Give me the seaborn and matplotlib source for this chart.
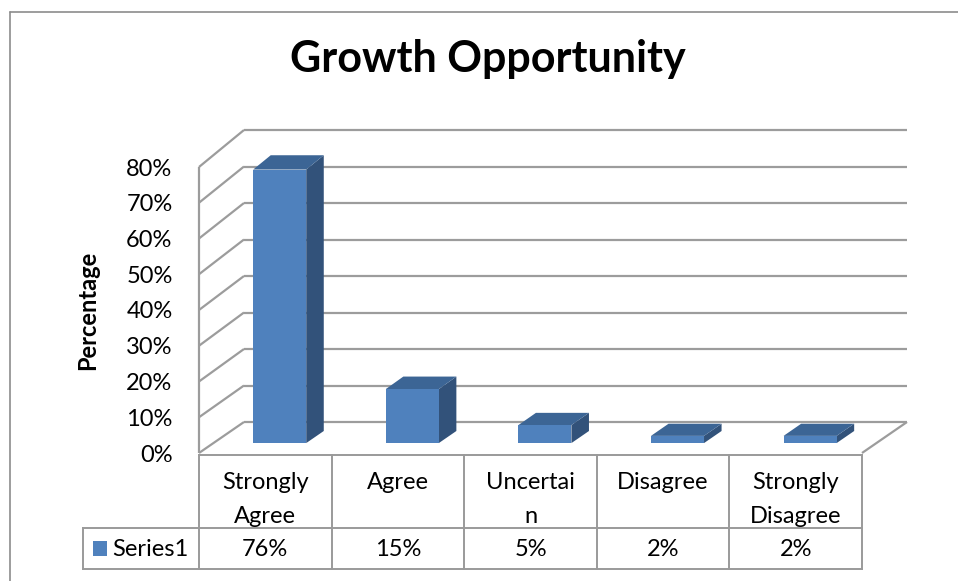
import matplotlib
matplotlib.use("Agg")
import matplotlib.pyplot as plt
from matplotlib.patches import Polygon, Rectangle
from matplotlib.lines import Line2D
from matplotlib.transforms import blended_transform_factory
import pandas as pd
import seaborn as sns

# ---- data -------------------------------------------------------------
categories = ["Strongly\nAgree", "Agree", "Uncertai\nn", "Disagree", "Strongly\nDisagree"]
values = [76, 15, 5, 2, 2]
value_labels = ["76%", "15%", "5%", "2%", "2%"]
y_ticks = [0, 10, 20, 30, 40, 50, 60, 70, 80]
y_tick_labels = ["0%", "10%", "20%", "30%", "40%", "50%", "60%", "70%", "80%"]
series_name = "Series1"
title = "Growth Opportunity"
y_label = "Percentage"

# ---- style ------------------------------------------------------------
sns.set_theme(style="white")
plt.rcParams["font.family"] = ["Lato", "DejaVu Sans"]

FRONT = "#4F81BD"
SIDE = "#32527A"
TOP = "#3C6595"
GRID = "#9C9C9C"
TABLE = "#9A9A9A"

W, H = 958, 581
fig = plt.figure(figsize=(W / 100, H / 100), dpi=100)
fig.patch.set_facecolor("white")

# front plane of the 3-D box, in pixels
L, R, B0, T80 = 199, 862, 453, 167
ax = fig.add_axes([L / W, 1 - B0 / H, (R - L) / W, (B0 - T80) / H])

df = pd.DataFrame({"category": categories, "value": values})
sns.barplot(data=df, x="category", y="value", color=FRONT, width=0.4,
            saturation=1, ax=ax, zorder=3)
ax.set_xlim(-0.5, 4.5)
ax.set_ylim(0, 80)

# depth of the box, expressed in data units
px_cat = (R - L) / 5
px_pct = (B0 - T80) / 80
DEPTH_X = 45 / px_cat
DEPTH_Y = 31 / px_pct
BACK_SCALE = 3.65 / px_pct


def proj(x, v, f):
    """Point at category x, value v, depth fraction f (0 front, 1 back)."""
    return (x + f * DEPTH_X, v * (1 + (BACK_SCALE - 1) * f) + f * DEPTH_Y)


def seg(p, q, **kw):
    ax.add_line(Line2D([p[0], q[0]], [p[1], q[1]], color=GRID, lw=1.6,
                       clip_on=False, solid_capstyle="butt", **kw))


# back wall and left wall gridlines
for v in y_ticks:
    seg(proj(-0.5, v, 1), proj(4.5, v, 1), zorder=1)
    seg(proj(-0.5, v, 0), proj(-0.5, v, 1), zorder=1)
seg(proj(-0.5, 0, 0), proj(-0.5, 80, 0), zorder=1)
# floor edges
seg(proj(4.5, 0, 0), proj(4.5, 0, 1), zorder=1)

# turn the flat bars into 3-D columns
F0, F1 = 0.32, 0.71
for patch in list(ax.patches):
    x0 = patch.get_x()
    w = patch.get_width()
    h = patch.get_height()
    px, py = proj(x0, 0, F0)
    patch.set_x(px)
    patch.set_y(py)
    patch.set_height(proj(x0, h, F0)[1] - py)
    patch.set_linewidth(0)
    patch.set_clip_on(False)
    side = [proj(x0 + w, 0, F0), proj(x0 + w, h, F0),
            proj(x0 + w, h, F1), proj(x0 + w, 0, F1)]
    top = [proj(x0, h, F0), proj(x0 + w, h, F0),
           proj(x0 + w, h, F1), proj(x0, h, F1)]
    ax.add_patch(Polygon(side, closed=True, facecolor=SIDE, lw=0,
                         zorder=2, clip_on=False))
    ax.add_patch(Polygon(top, closed=True, facecolor=TOP, lw=0,
                         zorder=2, clip_on=False))

# axes cosmetics
for s in ax.spines.values():
    s.set_visible(False)
ax.set_xticks([])
ax.set_xlabel("")
ax.set_ylabel("")
ax.set_yticks(y_ticks)
ax.set_yticklabels(y_tick_labels, fontsize=17, color="black")
ax.tick_params(axis="y", length=0, pad=19)
ax.set_facecolor("none")

# ---- data table -------------------------------------------------------
tr = blended_transform_factory(ax.transData, fig.transFigure)


def fy(py):
    return 1 - py / H


def tline(xs, ys):
    fig.add_artist(Line2D(xs, ys, transform=tr, color=TABLE, lw=1.4,
                          solid_capstyle="projecting"))


x_left = -0.5 + (83 - L) / px_cat
tline([-0.5, 4.5], [fy(455), fy(455)])
tline([x_left, 4.5], [fy(528), fy(528)])
tline([x_left, 4.5], [fy(569), fy(569)])
tline([x_left, x_left], [fy(528), fy(569)])
for i in range(6):
    tline([-0.5 + i, -0.5 + i], [fy(455), fy(569)])

for i, (cat, lab) in enumerate(zip(categories, value_labels)):
    for k, line in enumerate(cat.split("\n")):
        fig.text(i, fy(489 + 34 * k), line, transform=tr, ha="center",
                 va="baseline", fontsize=17, color="black")
    fig.text(i, fy(556), lab, transform=tr, ha="center", va="baseline",
             fontsize=17, color="black")

fig.add_artist(Rectangle((93 / W, fy(556)), 14 / W, 15 / H,
                         transform=fig.transFigure, facecolor=FRONT, lw=0))
fig.text(112 / W, fy(556), series_name, ha="left", va="baseline",
         fontsize=17, color="black")

# ---- titles -----------------------------------------------------------
fig.text(488 / W, fy(72), title, ha="center", va="baseline",
         fontsize=31, fontweight="bold", color="black")
fig.text(88 / W, fy(310), y_label, ha="center", va="center", rotation=90,
         fontsize=17, fontweight="bold", color="black")

# chart frame
fig.add_artist(Line2D([10 / W, 10 / W], [fy(12), 0], transform=fig.transFigure,
                      color="#8C8C8C", lw=1.2))
fig.add_artist(Line2D([10 / W, 1], [fy(12), fy(12)], transform=fig.transFigure,
                      color="#8C8C8C", lw=1.2))

fig.savefig("out.png", dpi=100)
